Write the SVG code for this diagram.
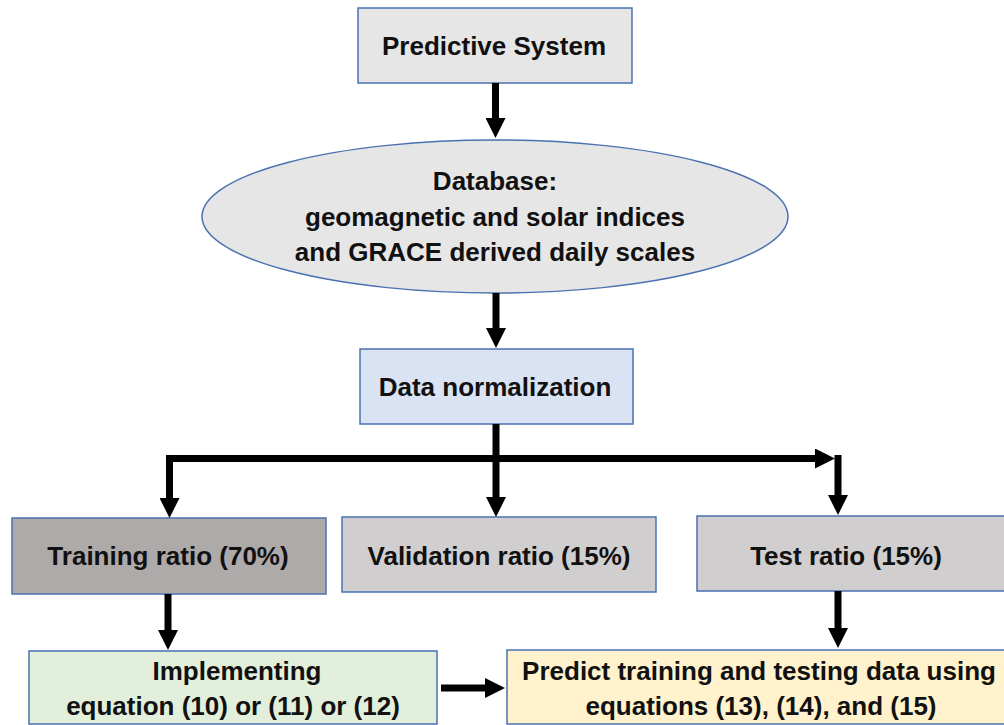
<svg xmlns="http://www.w3.org/2000/svg" width="1004" height="725" viewBox="0 0 1004 725">
  <style>
    .box { stroke: #4a72b0; stroke-width: 1.5; }
    .t { font-family: "Liberation Sans", Arial, sans-serif; font-weight: bold; font-size: 26px; fill: #111; text-anchor: middle; }
    .c { fill: none; stroke: #000; stroke-width: 7; stroke-linejoin: miter; marker-end: url(#ah); }
  </style>
  <defs>
    <marker id="ah" markerUnits="userSpaceOnUse" markerWidth="20" markerHeight="20" viewBox="0 0 20 20" refX="2" refY="10" orient="auto">
      <path d="M0,0 L20,10 L0,20 z" fill="#000"/>
    </marker>
  </defs>
  <rect width="1004" height="725" fill="#fff"/>

  <g id="predictive-system">
    <rect class="box" x="358" y="8" width="274" height="75" fill="#e7e6e6"/>
    <text class="t" x="494" y="55">Predictive System</text>
  </g>

  <g id="database">
    <ellipse class="box" cx="495" cy="216.5" rx="293" ry="76.5" fill="#e7e6e6"/>
    <text class="t" x="495" y="190">Database:</text>
    <text class="t" x="495" y="226">geomagnetic and solar indices</text>
    <text class="t" x="495" y="261">and GRACE derived daily scales</text>
  </g>

  <g id="data-normalization">
    <rect class="box" x="360" y="349" width="273" height="75" fill="#dae3f3"/>
    <text class="t" x="495" y="396">Data normalization</text>
  </g>

  <g id="training">
    <rect class="box" x="12" y="518" width="314" height="76" fill="#aeaaaa"/>
    <text class="t" x="168" y="565">Training ratio (70%)</text>
  </g>

  <g id="validation">
    <rect class="box" x="342" y="517" width="314" height="75" fill="#d0cece"/>
    <text class="t" x="499" y="565">Validation ratio (15%)</text>
  </g>

  <g id="test">
    <rect class="box" x="697" y="516" width="320" height="75" fill="#d0cece"/>
    <text class="t" x="846" y="565">Test ratio (15%)</text>
  </g>

  <g id="implementing">
    <rect class="box" x="29" y="651" width="408" height="73" fill="#e2efda"/>
    <text class="t" x="237" y="680">Implementing</text>
    <text class="t" x="233" y="715">equation (10) or (11) or (12)</text>
  </g>

  <g id="predict">
    <rect class="box" x="507" y="650" width="510" height="74" fill="#fff2cc"/>
    <text class="t" x="759" y="680">Predict training and testing data using</text>
    <text class="t" x="761" y="715">equations (13), (14), and (15)</text>
  </g>

  <g id="connectors">
    <path class="c" d="M495.5,83 V120"/>
    <path class="c" d="M496,293 V330"/>
    <path class="c" d="M496,424 V499"/>
    <path class="c" d="M496,458.5 H169.5 V500"/>
    <path class="c" d="M496,458.5 H817"/>
    <path class="c" d="M838,455 V497"/>
    <path class="c" d="M168,594 V632"/>
    <path class="c" d="M838,591 V630"/>
    <path class="c" d="M441,688 H487"/>
  </g>
</svg>
